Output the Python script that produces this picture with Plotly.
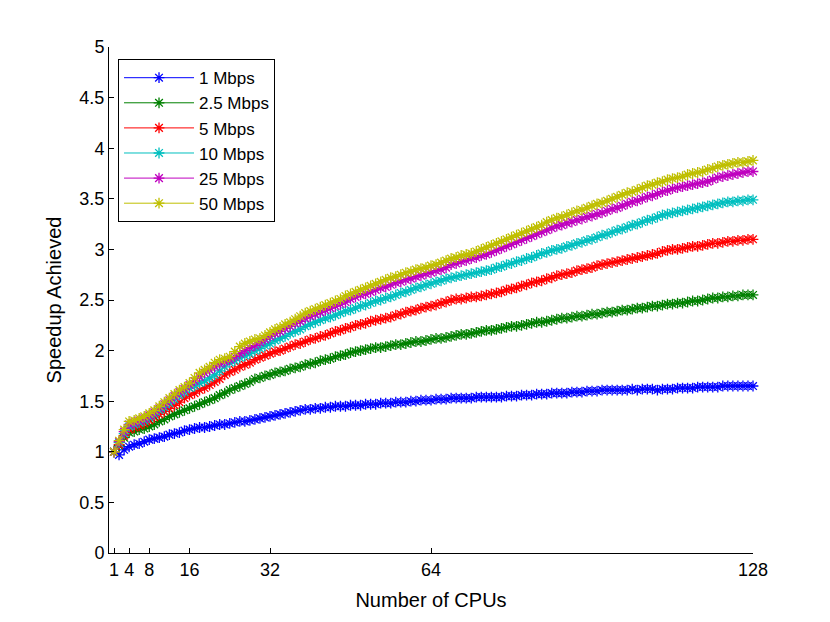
import plotly.graph_objects as go

cpus = list(range(1, 129))

mbps_1 = [
    1.00, 0.97, 1.02, 1.05, 1.07, 1.08, 1.10, 1.12, 1.13, 1.14,
    1.15, 1.17, 1.18, 1.19, 1.21, 1.22, 1.23, 1.24, 1.24, 1.25,
    1.26, 1.27, 1.27, 1.28, 1.29, 1.30, 1.30, 1.31, 1.32, 1.33,
    1.34, 1.35, 1.36, 1.37, 1.38, 1.39, 1.40, 1.41, 1.42, 1.42,
    1.43, 1.43, 1.44, 1.44, 1.45, 1.45, 1.45, 1.46, 1.46, 1.46,
    1.47, 1.47, 1.47, 1.48, 1.48, 1.48, 1.49, 1.49, 1.49, 1.50,
    1.50, 1.51, 1.51, 1.51, 1.52, 1.52, 1.52, 1.53, 1.53, 1.53,
    1.53, 1.53, 1.54, 1.54, 1.54, 1.54, 1.54, 1.54, 1.55, 1.55,
    1.55, 1.56, 1.56, 1.56, 1.57, 1.57, 1.57, 1.58, 1.58, 1.58,
    1.58, 1.59, 1.59, 1.59, 1.60, 1.60, 1.60, 1.61, 1.61, 1.61,
    1.61, 1.61, 1.61, 1.62, 1.61, 1.62, 1.62, 1.62, 1.61, 1.62,
    1.62, 1.62, 1.63, 1.63, 1.63, 1.63, 1.64, 1.64, 1.64, 1.64,
    1.64, 1.65, 1.65, 1.65, 1.65, 1.65, 1.65, 1.65,
]

mbps_2_5 = [
    1.00, 1.06, 1.14, 1.19, 1.20, 1.22, 1.23, 1.25, 1.27, 1.30,
    1.32, 1.35, 1.37, 1.39, 1.41, 1.43, 1.45, 1.47, 1.49, 1.51,
    1.53, 1.56, 1.58, 1.61, 1.63, 1.65, 1.67, 1.69, 1.72, 1.73,
    1.75, 1.76, 1.78, 1.79, 1.80, 1.82, 1.83, 1.84, 1.86, 1.87,
    1.88, 1.90, 1.91, 1.92, 1.94, 1.95, 1.96, 1.98, 1.99, 2.00,
    2.01, 2.02, 2.03, 2.03, 2.04, 2.05, 2.06, 2.06, 2.07, 2.08,
    2.09, 2.09, 2.10, 2.11, 2.12, 2.12, 2.13, 2.14, 2.15, 2.16,
    2.16, 2.17, 2.18, 2.19, 2.20, 2.20, 2.21, 2.22, 2.23, 2.24,
    2.24, 2.25, 2.26, 2.27, 2.28, 2.28, 2.29, 2.30, 2.31, 2.32,
    2.32, 2.33, 2.34, 2.34, 2.35, 2.36, 2.36, 2.37, 2.38, 2.38,
    2.39, 2.40, 2.40, 2.41, 2.42, 2.42, 2.43, 2.44, 2.44, 2.45,
    2.46, 2.46, 2.47, 2.47, 2.48, 2.49, 2.49, 2.50, 2.51, 2.52,
    2.52, 2.53, 2.53, 2.54, 2.54, 2.55, 2.55, 2.55,
]

mbps_5 = [
    1.00, 1.07, 1.16, 1.22, 1.24, 1.26, 1.28, 1.31, 1.34, 1.37,
    1.40, 1.43, 1.46, 1.49, 1.53, 1.56, 1.58, 1.61, 1.63, 1.66,
    1.69, 1.72, 1.76, 1.79, 1.81, 1.84, 1.86, 1.88, 1.91, 1.93,
    1.95, 1.97, 1.99, 2.00, 2.02, 2.04, 2.06, 2.07, 2.09, 2.11,
    2.12, 2.14, 2.15, 2.17, 2.19, 2.20, 2.22, 2.23, 2.25, 2.26,
    2.27, 2.29, 2.30, 2.31, 2.32, 2.33, 2.35, 2.36, 2.38, 2.39,
    2.40, 2.42, 2.43, 2.44, 2.45, 2.47, 2.48, 2.50, 2.51, 2.51,
    2.52, 2.53, 2.53, 2.54, 2.55, 2.56, 2.57, 2.58, 2.60, 2.61,
    2.62, 2.64, 2.65, 2.67, 2.68, 2.69, 2.71, 2.72, 2.74, 2.75,
    2.76, 2.77, 2.79, 2.80, 2.81, 2.82, 2.84, 2.85, 2.86, 2.87,
    2.88, 2.89, 2.90, 2.91, 2.92, 2.93, 2.94, 2.95, 2.96, 2.98,
    2.99, 3.00, 3.00, 3.01, 3.02, 3.03, 3.03, 3.04, 3.05, 3.06,
    3.06, 3.07, 3.08, 3.08, 3.09, 3.09, 3.10, 3.10,
]

mbps_10 = [
    1.00, 1.09, 1.18, 1.25, 1.27, 1.29, 1.31, 1.34, 1.37, 1.41,
    1.44, 1.48, 1.52, 1.56, 1.59, 1.63, 1.65, 1.68, 1.70, 1.73,
    1.76, 1.80, 1.84, 1.88, 1.90, 1.93, 1.95, 1.97, 2.00, 2.02,
    2.05, 2.07, 2.10, 2.12, 2.14, 2.17, 2.19, 2.21, 2.24, 2.26,
    2.28, 2.30, 2.32, 2.33, 2.35, 2.37, 2.39, 2.40, 2.42, 2.44,
    2.45, 2.47, 2.49, 2.50, 2.52, 2.53, 2.55, 2.57, 2.58, 2.60,
    2.62, 2.63, 2.65, 2.66, 2.68, 2.69, 2.71, 2.72, 2.73, 2.74,
    2.75, 2.76, 2.77, 2.78, 2.79, 2.80, 2.82, 2.83, 2.85, 2.86,
    2.88, 2.89, 2.91, 2.92, 2.94, 2.96, 2.97, 2.99, 3.00, 3.01,
    3.03, 3.04, 3.06, 3.07, 3.09, 3.10, 3.12, 3.14, 3.15, 3.17,
    3.19, 3.20, 3.22, 3.24, 3.25, 3.27, 3.29, 3.30, 3.32, 3.34,
    3.35, 3.36, 3.37, 3.38, 3.39, 3.40, 3.41, 3.42, 3.43, 3.44,
    3.45, 3.46, 3.47, 3.47, 3.48, 3.48, 3.49, 3.49,
]

mbps_25 = [
    1.00, 1.10, 1.20, 1.27, 1.29, 1.31, 1.33, 1.36, 1.39, 1.43,
    1.47, 1.51, 1.55, 1.59, 1.62, 1.66, 1.70, 1.74, 1.78, 1.81,
    1.84, 1.87, 1.89, 1.91, 1.94, 1.97, 2.00, 2.03, 2.05, 2.08,
    2.11, 2.14, 2.17, 2.19, 2.22, 2.24, 2.27, 2.29, 2.32, 2.34,
    2.36, 2.38, 2.40, 2.42, 2.44, 2.46, 2.48, 2.51, 2.53, 2.55,
    2.56, 2.58, 2.60, 2.62, 2.63, 2.65, 2.67, 2.68, 2.70, 2.71,
    2.73, 2.74, 2.76, 2.77, 2.79, 2.80, 2.82, 2.85, 2.86, 2.88,
    2.89, 2.91, 2.92, 2.94, 2.95, 2.97, 2.99, 3.01, 3.03, 3.05,
    3.07, 3.09, 3.11, 3.13, 3.15, 3.17, 3.19, 3.21, 3.23, 3.24,
    3.26, 3.27, 3.29, 3.30, 3.32, 3.33, 3.35, 3.36, 3.38, 3.40,
    3.41, 3.43, 3.45, 3.47, 3.48, 3.50, 3.52, 3.53, 3.55, 3.57,
    3.58, 3.60, 3.61, 3.62, 3.63, 3.64, 3.65, 3.66, 3.67, 3.69,
    3.71, 3.72, 3.73, 3.74, 3.75, 3.76, 3.77, 3.77,
]

mbps_50 = [
    1.00, 1.11, 1.22, 1.30, 1.31, 1.33, 1.35, 1.38, 1.41, 1.45,
    1.49, 1.53, 1.57, 1.61, 1.64, 1.68, 1.73, 1.78, 1.81, 1.84,
    1.88, 1.91, 1.92, 1.94, 1.99, 2.04, 2.07, 2.09, 2.11, 2.12,
    2.15, 2.18, 2.21, 2.23, 2.26, 2.28, 2.31, 2.34, 2.37, 2.39,
    2.41, 2.43, 2.45, 2.47, 2.49, 2.51, 2.54, 2.56, 2.58, 2.60,
    2.62, 2.64, 2.66, 2.68, 2.70, 2.72, 2.73, 2.75, 2.77, 2.78,
    2.80, 2.81, 2.82, 2.84, 2.85, 2.87, 2.89, 2.91, 2.92, 2.94,
    2.95, 2.96, 2.98, 3.00, 3.02, 3.04, 3.06, 3.08, 3.10, 3.12,
    3.14, 3.16, 3.18, 3.20, 3.22, 3.24, 3.27, 3.29, 3.31, 3.32,
    3.34, 3.36, 3.38, 3.39, 3.41, 3.43, 3.45, 3.46, 3.48, 3.50,
    3.52, 3.54, 3.56, 3.57, 3.59, 3.61, 3.63, 3.64, 3.66, 3.67,
    3.69, 3.70, 3.71, 3.72, 3.74, 3.75, 3.76, 3.77, 3.79, 3.80,
    3.82, 3.83, 3.84, 3.85, 3.86, 3.86, 3.87, 3.88,
]

names = ['1 Mbps', '2.5 Mbps', '5 Mbps', '10 Mbps', '25 Mbps', '50 Mbps']
colors = ['#0000ff', '#008000', '#ff0000', '#00bfbf', '#bf00bf', '#bfbf00']
series = [mbps_1, mbps_2_5, mbps_5, mbps_10, mbps_25, mbps_50]

x_ticks = [1, 4, 8, 16, 32, 64, 128]
y_ticks = [0, 0.5, 1, 1.5, 2, 2.5, 3, 3.5, 4, 4.5, 5]
y_labels = ['0', '0.5', '1', '1.5', '2', '2.5', '3', '3.5', '4', '4.5', '5']

fig = go.Figure()

for name, col, ys in zip(names, colors, series):
    fig.add_trace(go.Scatter(
        x=cpus,
        y=ys,
        name=name,
        mode='lines+markers',
        line=dict(color=col, width=1),
        marker=dict(symbol='asterisk-open', size=9, color=col,
                    line=dict(color=col, width=1.3)),
        cliponaxis=False
    ))

# page body adds 8px, margins are shifted to compensate
fig.update_layout(
    width=830,
    height=622,
    template='simple_white',
    paper_bgcolor='white',
    plot_bgcolor='white',
    margin=dict(l=101, r=85, t=39, b=77),
    font=dict(family='Liberation Sans, Arial, sans-serif', size=17, color='black'),
    showlegend=True,
    legend=dict(
        x=0.014, y=0.976, xanchor='left', yanchor='top',
        bgcolor='white', bordercolor='black', borderwidth=1,
        font=dict(size=17), tracegroupgap=0, itemwidth=70
    ),
    xaxis=dict(
        range=[0, 128],
        tickvals=x_ticks,
        ticktext=[str(v) for v in x_ticks],
        tickfont=dict(size=18),
        ticks='inside', ticklen=5, tickcolor='black',
        showline=True, linecolor='black', linewidth=1,
        showgrid=False, zeroline=False, mirror=False,
        title=dict(text='Number of CPUs', standoff=14)
    ),
    yaxis=dict(
        range=[0, 5],
        tickvals=y_ticks,
        ticktext=y_labels,
        tickfont=dict(size=18),
        ticks='inside', ticklen=5, tickcolor='black',
        showline=True, linecolor='black', linewidth=1,
        showgrid=False, zeroline=False, mirror=False,
        title=dict(text='Speedup Achieved', standoff=12)
    )
)

fig.write_html("out.html")
